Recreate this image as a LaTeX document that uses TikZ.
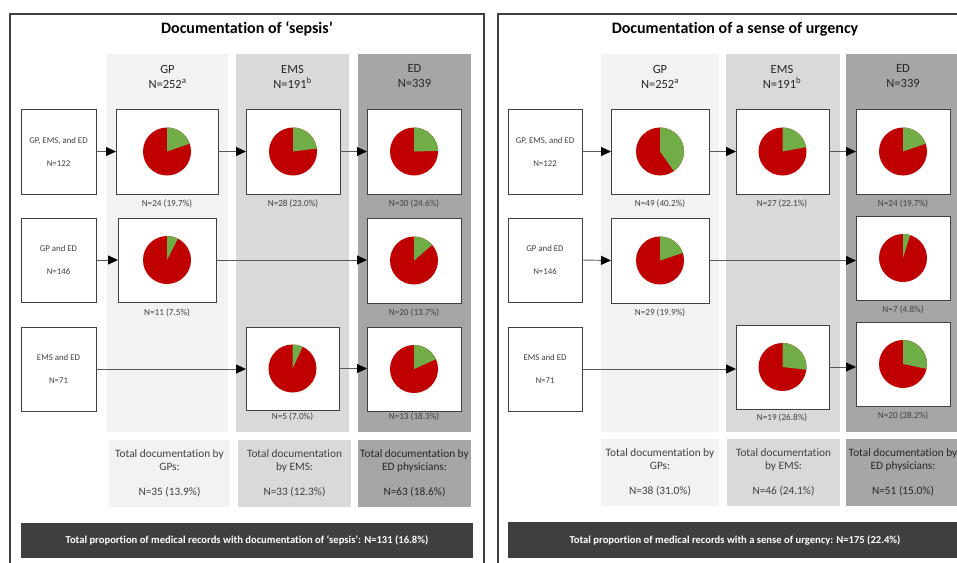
\documentclass[tikz,border=0pt]{standalone}
\usepackage{fontspec}
\setmainfont{Carlito}[Ligatures=NoCommon]
\usetikzlibrary{arrows.meta}
\definecolor{pred}{HTML}{C00000}
\definecolor{pgreen}{HTML}{70AD47}
\definecolor{colgp}{HTML}{F2F2F2}
\definecolor{colems}{HTML}{D9D9D9}
\definecolor{colED}{HTML}{A6A6A6}
\definecolor{darkbar}{HTML}{3F3F3F}
\definecolor{bord}{HTML}{404040}
\definecolor{txt}{HTML}{404040}
\definecolor{arrline}{HTML}{595959}
\newcommand{\BX}[7]{\node[#1, minimum width={(#5-#3)*1pt}, minimum height={(#6-#4)*1pt}] (#2) at ({(#3+#5)/2},{-(#4+#6)/2}) {#7};}
\newcommand{\mypie}[2]{\fill[pred] (#1.center) circle (24);
  \fill[pgreen] (#1.center) -- ++(90:24) arc[start angle=90, delta angle={-3.6*#2}, radius=24] -- cycle;}
\tikzset{
  base/.style={inner sep=0pt, outer sep=0pt},
  frame/.style={base, draw=bord, line width=1.2pt},
  col/.style={base, fill=#1},
  pbox/.style={base, draw=bord, line width=1pt, fill=white},
  srcbox/.style={pbox, align=center, text=txt, font=\fontsize{8.8}{10}\selectfont},
  hdr/.style={base, align=center, text=black!85, font=\fontsize{12.5}{15}\selectfont},
  lbl/.style={base, text=txt, font=\fontsize{9.2}{10}\selectfont},
  totbox/.style={base, fill=#1, align=center, text=txt, font=\fontsize{11.3}{13}\selectfont},
  barbox/.style={base, fill=darkbar, text=white, font=\bfseries\fontsize{10.6}{12}\selectfont},
  ttl/.style={base, font=\bfseries\fontsize{16}{18}\selectfont},
  arr/.style={draw=arrline, line width=0.9pt, -{Triangle[length=10pt,width=9pt,black]}}
}
\begin{document}
\begin{tikzpicture}[x=1pt,y=1pt]
\clip (0,0) rectangle (957,-562);
\fill[white] (0,0) rectangle (957,-562);
% ===== Left panel =====
\BX{frame}{Lframe}{10}{14}{484}{600}{}
\node[ttl] (Ltitle) at (247,-29) {Documentation of ‘sepsis’};
\BX{col=colgp}{Lcgp}{107}{54}{228}{432}{}
\BX{col=colems}{Lcems}{236}{54}{349}{432}{}
\BX{col=colED}{Lced}{358}{54}{471}{432}{}
\node[hdr] (Lhgp) at (167.5,-76.5) {GP\\N=252\textsuperscript{a}};
\node[hdr] (Lhems) at (292.5,-76.5) {EMS\\N=191\textsuperscript{b}};
\node[hdr] (Lhed) at (414.5,-76.5) {ED\\N=339};
\BX{srcbox}{Ls1}{21}{109}{96}{194}{GP, EMS, and ED\\[13pt]N=122}
\BX{srcbox}{Ls2}{21}{218}{96}{302}{GP and ED\\[13pt]N=146}
\BX{srcbox}{Ls3}{21}{327}{96}{411}{EMS and ED\\[13pt]N=71}
\BX{pbox}{Lg1}{116}{109}{218}{194}{}
\BX{pbox}{Lm1}{246}{109}{340}{194}{}
\BX{pbox}{Ld1}{367}{109}{461}{194}{}
\BX{pbox}{Lg2}{118}{218}{216}{302}{}
\BX{pbox}{Ld2}{367}{218}{461}{303}{}
\BX{pbox}{Lm3}{246}{327}{339}{410}{}
\BX{pbox}{Ld3}{367}{327}{461}{411}{}
\mypie{Lg1}{19.7}\mypie{Lm1}{23.0}\mypie{Ld1}{24.6}
\mypie{Lg2}{7.5}\mypie{Ld2}{13.7}
\mypie{Lm3}{7.0}\mypie{Ld3}{18.3}
\node[lbl] (Llg1) at (167,-204) {N=24 (19.7\%)};
\node[lbl] (Llm1) at (293,-204) {N=28 (23.0\%)};
\node[lbl] (Lld1) at (414,-204) {N=30 (24.6\%)};
\node[lbl] (Llg2) at (167,-313) {N=11 (7.5\%)};
\node[lbl] (Lld2) at (414,-313) {N=20 (13.7\%)};
\node[lbl] (Llm3) at (292.5,-417) {N=5 (7.0\%)};
\node[lbl] (Lld3) at (414,-417) {N=13 (18.3\%)};
\draw[arr] (Ls1.east) -- (Lg1.west);
\draw[arr] (Lg1.east) -- (Lm1.west);
\draw[arr] (Lm1.east) -- (Ld1.west);
\draw[arr] (Ls2.east) -- (Lg2.west);
\draw[arr] (Lg2.east) -- (Lg2.east -| Ld2.west);
\draw[arr] (Ls3.east) -- (Ls3.east -| Lm3.west);
\draw[arr] (Lm3.east) -- (Lm3.east -| Ld3.west);
\BX{totbox=colgp}{Ltgp}{109}{440}{230}{507}{Total documentation by\\GPs:\\[12pt]N=35 (13.9\%)}
\BX{totbox=colems}{Ltems}{238}{440}{351}{507}{Total documentation\\by EMS:\\[12pt]N=33 (12.3\%)}
\BX{totbox=colED,text=black!85}{Lted}{358}{440}{471}{507}{Total documentation by\\ED physicians:\\[12pt]N=63 (18.6\%)}
\BX{barbox}{Lbar}{21}{523}{473}{558}{Total proportion of medical records with documentation of ‘sepsis’: N=131 (16.8\%)}
% ===== Right panel =====
\BX{frame}{Rframe}{498}{14}{975}{600}{}
\node[ttl] (Rtitle) at (735,-29) {Documentation of a sense of urgency};
\BX{col=colgp}{Rcgp}{601}{54}{719}{432}{}
\BX{col=colems}{Rcems}{726}{54}{840}{432}{}
\BX{col=colED}{Rced}{846}{54}{960}{432}{}
\node[hdr] (Rhgp) at (660,-76.5) {GP\\N=252\textsuperscript{a}};
\node[hdr] (Rhems) at (782,-76.5) {EMS\\N=191\textsuperscript{b}};
\node[hdr] (Rhed) at (903,-76.5) {ED\\N=339};
\BX{srcbox}{Rs1}{508}{109}{582}{194}{GP, EMS, and ED\\[13pt]N=122}
\BX{srcbox}{Rs2}{508}{218}{582}{302}{GP and ED\\[13pt]N=146}
\BX{srcbox}{Rs3}{508}{327}{582}{411}{EMS and ED\\[13pt]N=71}
\BX{pbox}{Rg1}{611}{109}{709}{194}{}
\BX{pbox}{Rm1}{736}{109}{829}{194}{}
\BX{pbox}{Rd1}{856}{109}{950}{194}{}
\BX{pbox}{Rg2}{611}{218}{709}{303}{}
\BX{pbox}{Rd2}{856}{216}{950}{300}{}
\BX{pbox}{Rm3}{736}{325}{829}{409}{}
\BX{pbox}{Rd3}{856}{322}{950}{406}{}
\mypie{Rg1}{40.2}\mypie{Rm1}{22.1}\mypie{Rd1}{19.7}
\mypie{Rg2}{19.9}\mypie{Rd2}{4.8}
\mypie{Rm3}{26.8}\mypie{Rd3}{28.2}
\node[lbl] (Rlg1) at (660,-204) {N=49 (40.2\%)};
\node[lbl] (Rlm1) at (782,-204) {N=27 (22.1\%)};
\node[lbl] (Rld1) at (903,-204) {N=24 (19.7\%)};
\node[lbl] (Rlg2) at (660,-313) {N=29 (19.9\%)};
\node[lbl] (Rld2) at (903,-310) {N=7 (4.8\%)};
\node[lbl] (Rlm3) at (782,-418) {N=19 (26.8\%)};
\node[lbl] (Rld3) at (903,-416) {N=20 (28.2\%)};
\draw[arr] (Rs1.east) -- (Rg1.west);
\draw[arr] (Rg1.east) -- (Rm1.west);
\draw[arr] (Rm1.east) -- (Rd1.west);
\draw[arr] (Rs2.east) -- (Rg2.west);
\draw[arr] (Rg2.east) -- (Rg2.east -| Rd2.west);
\draw[arr] (Rs3.east) -- (Rs3.east -| Rm3.west);
\draw[arr] (Rm3.east) -- (Rm3.east -| Rd3.west);
\BX{totbox=colgp}{Rtgp}{601}{439}{719}{506}{Total documentation by\\GPs:\\[12pt]N=38 (31.0\%)}
\BX{totbox=colems}{Rtems}{727}{439}{840}{506}{Total documentation\\by EMS:\\[12pt]N=46 (24.1\%)}
\BX{totbox=colED,text=black!85}{Rted}{846}{439}{960}{506}{Total documentation by\\ED physicians:\\[12pt]N=51 (15.0\%)}
\BX{barbox}{Rbar}{508}{522}{962}{558}{Total proportion of medical records with a sense of urgency: N=175 (22.4\%)}
\end{tikzpicture}
\end{document}
